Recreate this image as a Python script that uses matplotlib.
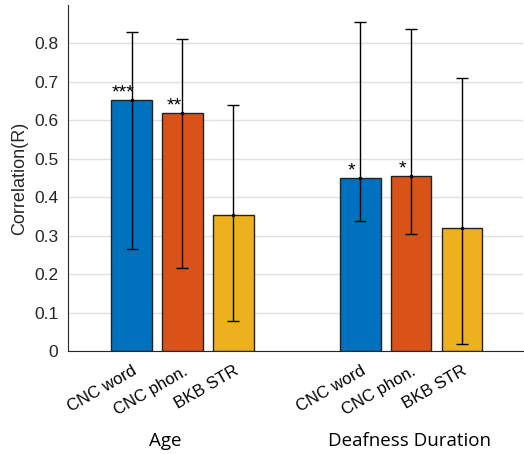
import matplotlib.pyplot as plt
import numpy as np

plt.rcParams['font.family'] = ['Liberation Sans', 'DejaVu Sans']

# 資料: 兩組 (Age, Deafness Duration) 各三個測驗
tests = ['CNC word', 'CNC phon.', 'BKB STR']
groups = ['Age', 'Deafness Duration']
r_age = [0.654, 0.620, 0.354]
r_age_hi = [0.831, 0.812, 0.639]
r_age_lo = [0.265, 0.216, 0.078]
r_dd = [0.450, 0.456, 0.320]
r_dd_hi = [0.855, 0.838, 0.709]
r_dd_lo = [0.337, 0.305, 0.017]
stars_age = ['***', '**', '']
stars_dd = ['*', '*', '']

colors = ['#0072BD', '#D95319', '#EDB120']

fig = plt.figure(figsize=(5.24, 4.54), dpi=100)
ax = fig.add_axes([0.130, 0.227, 0.868, 0.762])

pos_age = np.array([1, 2, 3])
pos_dd = pos_age + 4.5

for pos, vals, hi, lo, stars in [(pos_age, r_age, r_age_hi, r_age_lo, stars_age),
                                  (pos_dd, r_dd, r_dd_hi, r_dd_lo, stars_dd)]:
    vals = np.array(vals)
    yerr = [vals - np.array(lo), np.array(hi) - vals]
    ax.bar(pos, vals, width=0.8, color=colors, edgecolor='#222222', linewidth=1.0, zorder=2)
    ax.errorbar(pos, vals, yerr=yerr, fmt='.', color='black', ms=3,
                elinewidth=1.0, capsize=4, capthick=1.0, zorder=3)
    for x, v, s in zip(pos, vals, stars):
        if s:
            ax.text(x - 0.17, v - 0.005, s, ha='center', va='bottom', fontsize=14)

ax.set_xlim(-0.25, 8.7)
ax.set_ylim(0, 0.9)
ax.set_yticks(np.arange(0, 0.81, 0.1))
ax.set_yticklabels(['0'] + [f'{v:.1f}' for v in np.arange(0.1, 0.81, 0.1)])
ax.yaxis.grid(True, color='#e0e0e0', linewidth=1.0, zorder=0)
ax.set_axisbelow(True)

ax.set_xticks(np.concatenate([pos_age, pos_dd]))
ax.set_xticklabels(tests * 2, rotation=30, ha='right', rotation_mode='anchor')
ax.tick_params(axis='x', direction='in', length=4, labelsize=12, pad=9, color='#222222')
ax.tick_params(axis='y', length=0, labelsize=12.5, pad=7, labelcolor='#262626')
ax.set_ylabel('Correlation(R)', fontsize=13, color='#262626', labelpad=4)

for side in ['top', 'right']:
    ax.spines[side].set_visible(False)
for side in ['left', 'bottom']:
    ax.spines[side].set_color('#262626')

fig.text(165 / 524, 1 - 441 / 454, groups[0], ha='center', va='center', fontsize=13.5,
         family=['Open Sans', 'DejaVu Sans'])
fig.text(410 / 524, 1 - 441 / 454, groups[1], ha='center', va='center', fontsize=13.5,
         family=['Open Sans', 'DejaVu Sans'])

fig.savefig('out.png', dpi=100)
